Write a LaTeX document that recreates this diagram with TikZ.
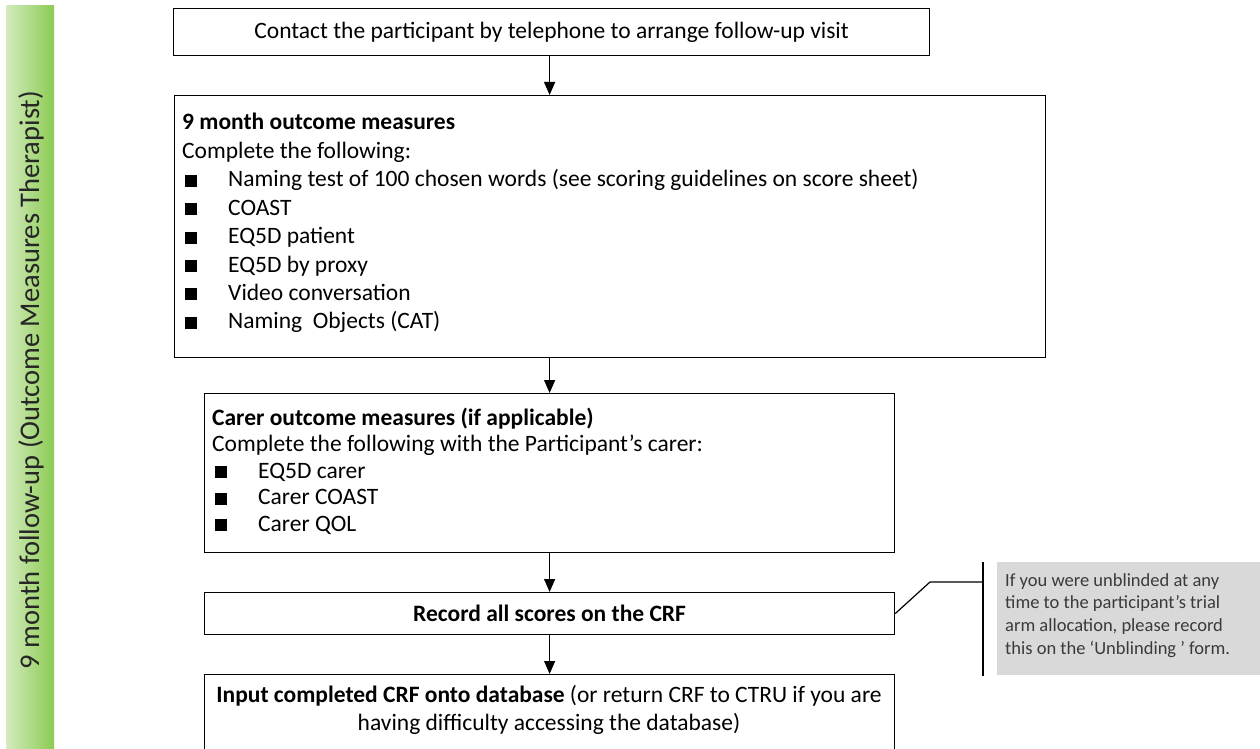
\documentclass[tikz,border=0pt]{standalone}
\usepackage{fontspec}
\setmainfont{Carlito}
\usetikzlibrary{arrows.meta}
\definecolor{GLight}{HTML}{D3EBBE}
\definecolor{GDark}{HTML}{8CCB52}
\definecolor{CalloutGrey}{HTML}{D9D9D9}
\definecolor{CalloutText}{HTML}{3A3A3A}
\newcommand{\sqbul}{\rule{12pt}{12pt}}
\begin{document}
\begin{tikzpicture}[x=1pt,y=-1pt,
  box/.style={draw=black, line width=1.2pt, rectangle, inner sep=0pt, anchor=north west},
  arr/.style={line width=1.2pt, -{Triangle[width=11pt,length=13pt]}},
  main/.style={font=\fontsize{23.5}{28}\selectfont},
  line/.style={main, inner sep=0pt, anchor=base west},
]
\useasboundingbox (0,0) rectangle (1260,749);
\clip (0,0) rectangle (1260,749);
% side bar
\shade[left color=GLight, right color=GDark] (6,6) rectangle (54,760);
\node[rotate=90, font=\fontsize{28.5}{33}\selectfont, inner sep=0pt, text=black!85] (bar) at (31,380) {9 month follow-up (Outcome Measures Therapist)};

% box 1
\node[box, main, minimum width=756pt, minimum height=47pt] (b1) at (173,8) {Contact the participant by telephone to arrange follow-up visit};

% box 2
\node[box, minimum width=871pt, minimum height=262pt] (b2) at (174,95) {};
\node[line] (b2t) at (182,130) {\textbf{9 month outcome measures}};
\node[line] (b2c) at (182,158.4) {Complete the following:};
\foreach \i/\t in {0/{Naming test of 100 chosen words (see scoring guidelines on score sheet)},
                   1/{COAST}, 2/{EQ5D patient}, 3/{EQ5D by proxy},
                   4/{Video conversation}, 5/{Naming\ \ Objects (CAT)}}{
  \node[line] (b2i\i) at (185,186.8+28.4*\i) {\makebox[43pt][l]{\sqbul}\t};
}

% box 3
\node[box, minimum width=690pt, minimum height=159pt] (b3) at (204,393) {};
\node[line] (b3t) at (212,425) {\textbf{Carer outcome measures (if applicable)}};
\node[line] (b3c) at (212,451.5) {Complete the following with the Participant’s carer:};
\foreach \i/\t in {0/{EQ5D carer}, 1/{Carer COAST}, 2/{Carer QOL}}{
  \node[line] (b3i\i) at (215,478+26.5*\i) {\makebox[43pt][l]{\sqbul}\t};
}

% box 4
\node[box, main, minimum width=690pt, minimum height=42pt] (b4) at (204,592) {\textbf{Record all scores on the CRF}};

% box 5 (cut off at the bottom)
\node[box, minimum width=690pt, minimum height=110pt] (b5) at (204,674) {};
\node[main, align=center, inner sep=0pt] (b5t) at (549,710) {\textbf{Input completed CRF onto database} (or return CRF to CTRU if you are\\having difficulty accessing the database)};

% arrows
\draw[arr] (b3.north |- b1.south) -- (b3.north |- b2.north);
\draw[arr] (b3.north |- b2.south) -- (b3.north);
\draw[arr] (b3.south) -- (b4.north);
\draw[arr] (b4.south) -- (b5.north);

% callout
\node[fill=CalloutGrey, anchor=north west, minimum width=263pt, minimum height=113pt, inner sep=0pt] (cg) at (997,562) {};
\node[anchor=north west, inner sep=0pt, align=left, text=CalloutText, font=\fontsize{18.5}{22.7}\selectfont] (ct) at (1005,573) {If you were unblinded at any\\time to the participant’s trial\\arm allocation, please record\\this on the ‘Unblinding ’ form.};
\coordinate (brt) at (983,562);
\coordinate (brb) at (983,676);
\coordinate (cbend) at (930,582);
\draw[line width=1.2pt] (brt) -- (brb);
\draw[line width=1.2pt] (b4.east) -- (cbend) -- (cbend -| brt);
\end{tikzpicture}
\end{document}
